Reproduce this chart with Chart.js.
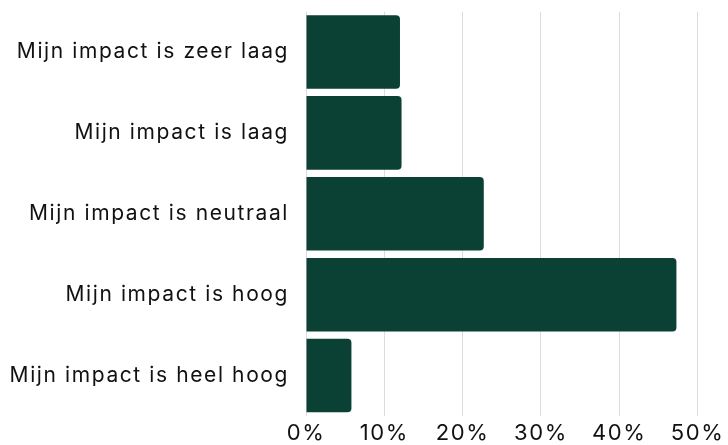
<!DOCTYPE html>
<html>
<head>
<meta charset="utf-8">
<script src="https://cdn.jsdelivr.net/npm/chart.js@4/dist/chart.umd.min.js"></script>
<style>
  html, body { margin: 0; padding: 0; background: #fff; }
  #wrap { width: 728px; height: 445px; }
</style>
</head>
<body>
<div id="wrap"><canvas id="grafico"></canvas></div>
<script>
// categorieen en percentages
const categorieen = [
  'Mijn impact is zeer laag',
  'Mijn impact is laag',
  'Mijn impact is neutraal',
  'Mijn impact is hoog',
  'Mijn impact is heel hoog'
];
const percentages = [12.0, 12.2, 22.7, 47.3, 5.8];
const xTicks = [0, 10, 20, 30, 40, 50];

// iets bredere letters, zoals in het origineel
const letterSpatie = {
  id: 'letterSpatie',
  beforeDraw(chart) { chart.ctx.letterSpacing = '1.6px'; }
};

const ctx = document.getElementById('grafico').getContext('2d');

new Chart(ctx, {
  type: 'bar',
  data: {
    labels: categorieen,
    datasets: [{
      data: percentages,
      backgroundColor: '#0a4134',
      borderRadius: 4,
      borderSkipped: 'start',
      categoryPercentage: 0.91,
      barPercentage: 1
    }]
  },
  plugins: [letterSpatie],
  options: {
    indexAxis: 'y',
    responsive: true,
    maintainAspectRatio: false,
    animation: false,
    layout: { padding: { top: 11.6, right: 7, left: 0, bottom: 0 } },
    plugins: {
      legend: { display: false },
      tooltip: { enabled: false }
    },
    scales: {
      x: {
        min: 0,
        max: 50,
        afterBuildTicks: axis => { axis.ticks = xTicks.map(v => ({ value: v })); },
        afterFit: axis => { axis.height = 29; },
        border: { display: false },
        grid: { color: '#dcdcdc', lineWidth: 1, drawTicks: false },
        ticks: {
          padding: 6,
          color: '#111',
          font: { family: 'Inter', size: 22, lineHeight: 1 },
          callback: v => v + '%'
        }
      },
      y: {
        afterFit: axis => { axis.width = 306; },
        border: { display: false },
        grid: { display: false, drawTicks: true, tickLength: 17 },
        ticks: {
          padding: 0,
          color: '#111',
          font: { family: 'Inter', size: 21, lineHeight: 1 }
        }
      }
    }
  }
});
</script>
</body>
</html>
